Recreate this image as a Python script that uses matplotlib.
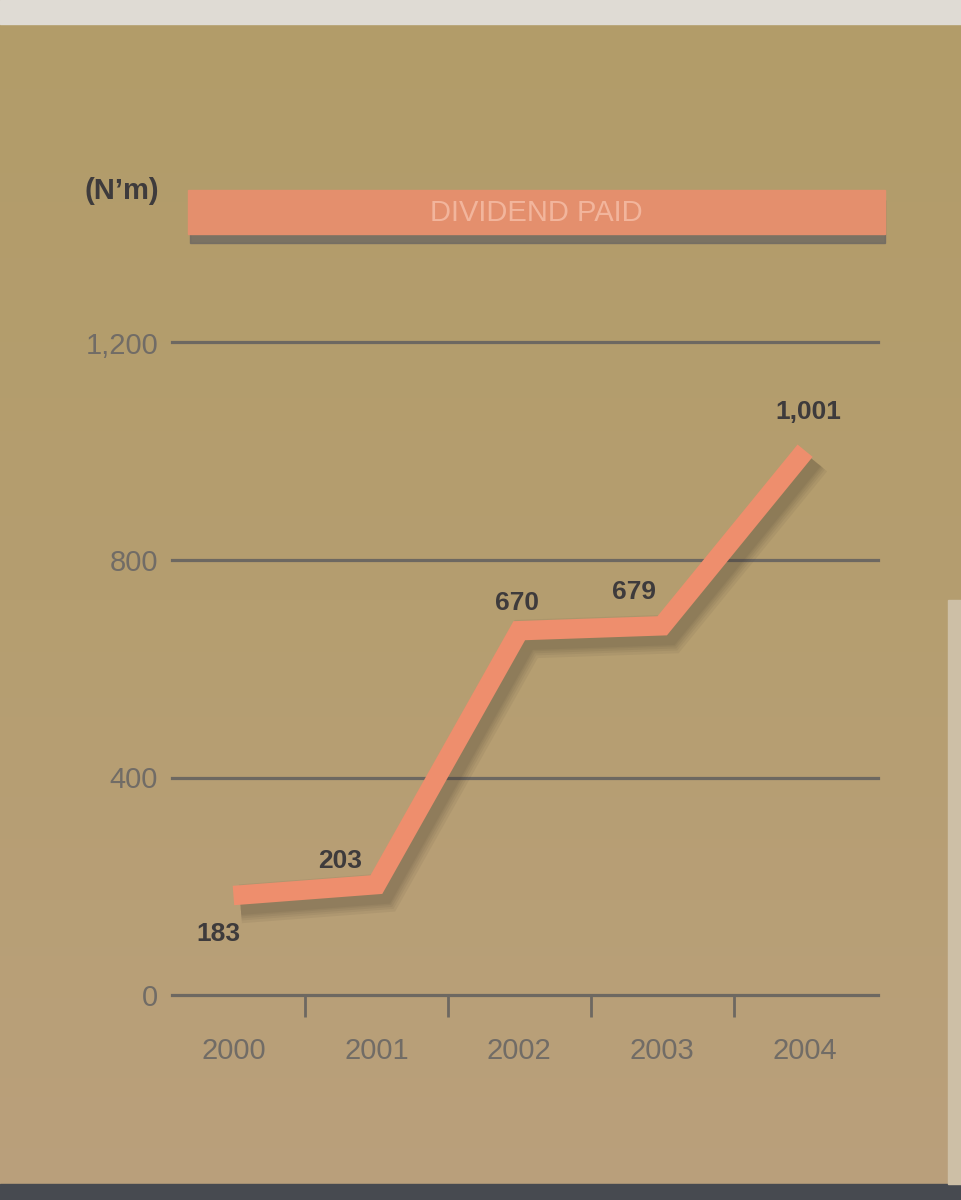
import numpy as np
import matplotlib
matplotlib.use('Agg')
import matplotlib.pyplot as plt
import matplotlib.patheffects as pe
from matplotlib.colors import LinearSegmentedColormap
from matplotlib.patches import Rectangle

years = ['2000', '2001', '2002', '2003', '2004']
dividend = [183, 203, 670, 679, 1001]
y_ticks = [0, 400, 800, 1200]
y_tick_labels = ['0', '400', '800', '1,200']
title = 'DIVIDEND PAID'
unit = '(N\u2019m)'

W, H = 961, 1200
fig = plt.figure(figsize=(W / 100, H / 100), dpi=100)

# paper background
bg = fig.add_axes([0, 0, 1, 1])
bg.set_xlim(0, W)
bg.set_ylim(H, 0)
bg.axis('off')
cmap = LinearSegmentedColormap.from_list('paper', ['#b29c69', '#b59e70', '#baa07c'])
grad = np.linspace(0, 1, 256).reshape(-1, 1)
bg.imshow(grad, cmap=cmap, aspect='auto', extent=[0, W, H, 0], zorder=0)
bg.add_patch(Rectangle((0, 0), W, 24, color='#dfdbd4', zorder=1))
bg.add_patch(Rectangle((0, 1184), W, 16, color='#474a50', zorder=1))
bg.add_patch(Rectangle((948, 600), 13, 584, color='#cdbfa6', zorder=1))

# title bar with shadow
bg.add_patch(Rectangle((190, 200), 695, 43, color='#6e6862', alpha=0.8, zorder=2))
bg.add_patch(Rectangle((188, 190), 697, 44, color='#e48f6d', zorder=3))
bg.text(536, 213, title, ha='center', va='center', fontsize=21,
        family='Liberation Sans', color='#f2b59c', zorder=4)
bg.text(122, 191, unit, ha='center', va='center', fontsize=21,
        family='Liberation Sans', weight='bold', color='#3e3b3c', zorder=4)

# chart
ax = fig.add_axes([172 / W, 1 - 995 / H, (878 - 172) / W, 652.5 / H])
ax.patch.set_alpha(0)
x = np.arange(len(years))
ax.set_xlim(-0.43, 4.51)
ax.set_ylim(0, 1200)
for s in ax.spines.values():
    s.set_visible(False)

for yv in y_ticks:
    ax.axhline(yv, color='#6d6861', lw=2.3, zorder=1, clip_on=False)

ax.set_yticks(y_ticks)
ax.set_yticklabels(y_tick_labels)
ax.tick_params(axis='y', length=0, pad=10, labelsize=21, labelcolor='#716c66')
for t in ax.get_yticklabels():
    t.set_family('Liberation Sans')

ax.set_xticks(x)
ax.set_xticklabels(years)
ax.tick_params(axis='x', which='major', length=0, pad=30, labelsize=21,
               labelcolor='#716c66')
for t in ax.get_xticklabels():
    t.set_family('Liberation Sans')
ax.set_xticks(x[:-1] + 0.5, minor=True)
ax.tick_params(axis='x', which='minor', direction='out', length=16, width=2,
               color='#6d6861')

shadow = [pe.SimpleLineShadow(offset=(5, -6), shadow_color='#3d342b', alpha=0.07, linewidth=lw)
          for lw in (28, 24, 21, 18, 16)]
shadow.append(pe.Normal())
ax.plot(x, dividend, color='#ee8e6d', lw=14, solid_joinstyle='miter',
        solid_capstyle='butt', path_effects=shadow, zorder=3, clip_on=False)

offsets = [(-11, -28), (-26, 17), (-2, 20), (-20, 24), (2, 28)]
for xi, v, off in zip(x, dividend, offsets):
    ax.annotate(f'{v:,}', (xi, v), xytext=off, textcoords='offset points',
                ha='center', va='center', fontsize=19, weight='bold',
                family='Liberation Sans', color='#3e3b3c', zorder=5)

fig.savefig('out.png', dpi=100)
